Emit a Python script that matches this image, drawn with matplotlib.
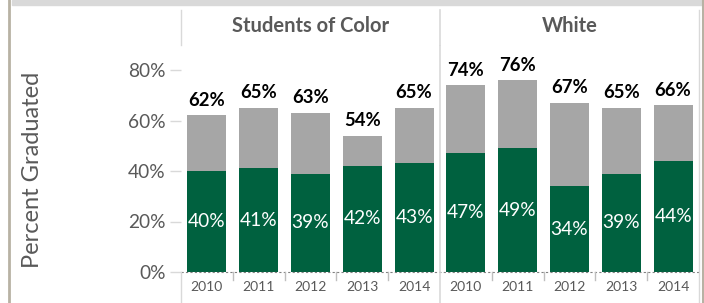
import matplotlib
matplotlib.use("Agg")
import matplotlib.pyplot as plt
from matplotlib.lines import Line2D
from matplotlib.patches import Rectangle

groups = ["Students of Color", "White"]
years = ["2010", "2011", "2012", "2013", "2014"]
soc_total = [62, 65, 63, 54, 65]
soc_green = [40, 41, 39, 42, 43]
white_total = [74, 76, 67, 65, 66]
white_green = [47, 49, 34, 39, 44]
yticks = [0, 20, 40, 60, 80]

plt.rcParams['font.family'] = ['Lato', 'DejaVu Sans']

W, H = 704, 303
fig = plt.figure(figsize=(W / 100, H / 100), dpi=100)

def fx(px):
    return px / W

def fy(py):
    return 1 - py / H

GREEN = "#00613f"
GRAY = "#a6a6a6"
TXT = "#595959"
LINE = "#d9d9d9"

x0, x1 = 181, 699
y0 = 272
ymax = 90
ppu = (272 - 70) / 80.0
ytop = y0 - ymax * ppu
ax = fig.add_axes([fx(x0), fy(y0), fx(x1) - fx(x0), (y0 - ytop) / H])
ax.set_xlim(0, 10)
ax.set_ylim(0, ymax)
for s in ax.spines.values():
    s.set_visible(False)
ax.set_xticks([])
ax.set_yticks(yticks)
ax.set_yticklabels([f"{v}%" for v in yticks], fontsize=13.8, color=TXT)
ax.tick_params(axis='y', length=8, color=LINE, width=1, pad=3)

totals = soc_total + white_total
greens = soc_green + white_green
xs = [i + 0.5 for i in range(10)]
bw = 0.755
ax.bar(xs, totals, width=bw, color=GRAY, zorder=2)
ax.bar(xs, greens, width=bw, color=GREEN, zorder=3)
for x, t, g in zip(xs, totals, greens):
    ax.text(x, t + 2.6, f"{t}%", ha='center', va='bottom', fontsize=13.3,
            fontweight='bold', color='black')
    ax.text(x, g / 2, f"{g}%", ha='center', va='center', fontsize=13.8,
            color='white', zorder=4)

# baseline dotted
ax.axhline(0, color="#808080", lw=0.8, ls=(0, (2, 2)), zorder=4, clip_on=False)
ax.axvline(5, color=LINE, lw=1.2, zorder=1)

# figure-level decorations
fig.patches.append(Rectangle((fx(12), fy(5)), fx(702) - fx(12), 5 / H,
                             transform=fig.transFigure, color="#d9d9d9", zorder=0))
def vline(px, py0, py1, color, lw):
    fig.lines.append(Line2D([fx(px), fx(px)], [fy(py0), fy(py1)],
                            transform=fig.transFigure, color=color, lw=lw))
vline(9, 0, 303, "#b8b2a4", 2)
vline(703, 0, 303, "#b8b2a4", 1.5)
vline(181, 10, 45, LINE, 1)
vline(181, 272, 303, LINE, 1)
vline(440, 10, 45, LINE, 1.2)
vline(440, 272, 303, LINE, 1.2)
vline(699, 10, 303, LINE, 1)
for k in range(1, 10):
    if k == 5:
        continue
    px = x0 + k * (x1 - x0) / 10
    vline(px, 272, 280, "#bfbfbf", 1)

# year labels
for x, yr in zip(xs, years * 2):
    ax.text(x, -15 / ppu, yr, ha='center', va='center', fontsize=10,
            color=TXT, transform=ax.transData, clip_on=False)

# panel titles
fig.text(fx(310.5), fy(26), groups[0], ha='center', va='center', fontsize=14.5,
         fontweight='bold', color=TXT)
fig.text(fx(569.5), fy(26), groups[1], ha='center', va='center', fontsize=14.5,
         fontweight='bold', color=TXT)

fig.text(fx(33), fy(170), "Percent Graduated", rotation=90, ha='center',
         va='center', fontsize=17, color=TXT)

fig.savefig("out.png", dpi=100, facecolor='white')
